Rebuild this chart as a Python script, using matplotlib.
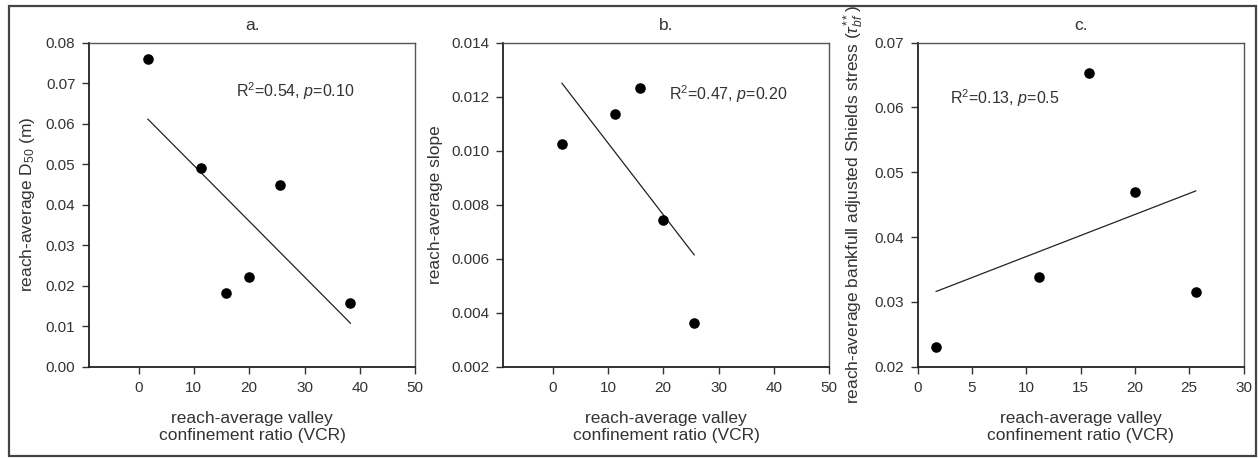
import numpy as np
import matplotlib
matplotlib.use("Agg")
import matplotlib.pyplot as plt
from matplotlib.patches import Rectangle
from matplotlib.ticker import FormatStrFormatter

plt.rcParams['font.family'] = ['Liberation Sans', 'DejaVu Sans']
plt.rcParams['mathtext.fontset'] = 'custom'
plt.rcParams['mathtext.rm'] = 'Liberation Sans'
plt.rcParams['mathtext.it'] = 'Liberation Sans:italic'

# reach-average valley confinement ratio for each reach
vcr = [1.7, 11.2, 15.8, 20.0, 25.6, 38.3]

# panel values (b and c have no value for the last reach)
d50 = [0.0759, 0.0491, 0.0181, 0.0221, 0.0448, 0.0156]
slope = [0.01024, 0.01134, 0.01233, 0.00743, 0.00363]
shields = [0.0231, 0.0338, 0.0653, 0.0470, 0.0315]

stats = ["R$^2$=0.54, $p$=0.10", "R$^2$=0.47, $p$=0.20", "R$^2$=0.13, $p$=0.5"]
titles = ["a.", "b.", "c."]
ylabels = ["reach-average D$_{50}$ (m)",
           "reach-average slope",
           r"reach-average bankfull adjusted Shields stress ($\tau^{**}_{bf}$)"]
xlabel = "reach-average valley\nconfinement ratio (VCR)"

txt = '#333333'
fig = plt.figure(figsize=(12.58, 4.58), dpi=100)
fig.patches.append(Rectangle((0.0068, 0.004), 0.992, 0.983, transform=fig.transFigure,
                             fill=False, ec='#444444', lw=1.6))

lefts = [0.0710, 0.4001, 0.7295]
panels = [
    (d50, (-8.9, 50), np.arange(0, 51, 10), (0, 0.08), np.arange(0, 0.081, 0.01), '%.2f', (17.7, 0.0681)),
    (slope, (-8.9, 50), np.arange(0, 51, 10), (0.002, 0.014), np.arange(0.002, 0.0141, 0.002), '%.3f', (21.1, 0.0121)),
    (shields, (0, 30), np.arange(0, 31, 5), (0.02, 0.07), np.arange(0.02, 0.0701, 0.01), '%.2f', (3.0, 0.0614)),
]

for i, (yv, xl, xt, yl, yt, fmt, tpos) in enumerate(panels):
    ax = fig.add_axes([lefts[i], 0.1994, 0.2590, 0.7078])
    x = np.array(vcr[:len(yv)])
    y = np.array(yv)
    ax.scatter(x, y, s=58, color='black', zorder=3, linewidths=0)
    # least-squares line over the range of the data
    k, b = np.polyfit(x, y, 1)
    xs = np.array([x.min(), x.max()])
    ax.plot(xs, k * xs + b, color='#222222', lw=0.9)

    ax.set_xlim(*xl)
    ax.set_ylim(*yl)
    ax.set_xticks(xt)
    ax.set_yticks(yt)
    ax.yaxis.set_major_formatter(FormatStrFormatter(fmt))
    ax.tick_params(direction='out', length=5, width=1, colors='#333333',
                   labelsize=11, labelcolor=txt, pad=5)
    for side in ['left', 'bottom']:
        ax.spines[side].set_linewidth(1.3)
        ax.spines[side].set_color('#222222')
    for side in ['top', 'right']:
        ax.spines[side].set_linewidth(1.0)
        ax.spines[side].set_color('#555555')

    ax.set_title(titles[i], fontsize=12.5, color=txt, pad=9)
    ax.set_ylabel(ylabels[i], fontsize=12.5, color=txt, labelpad=6)
    ax.set_xlabel(xlabel, fontsize=12.5, color=txt, labelpad=12, linespacing=1.15)
    ax.text(tpos[0], tpos[1], stats[i], fontsize=11.5, color=txt, ha='left', va='center')

fig.savefig('out.png', dpi=100)
